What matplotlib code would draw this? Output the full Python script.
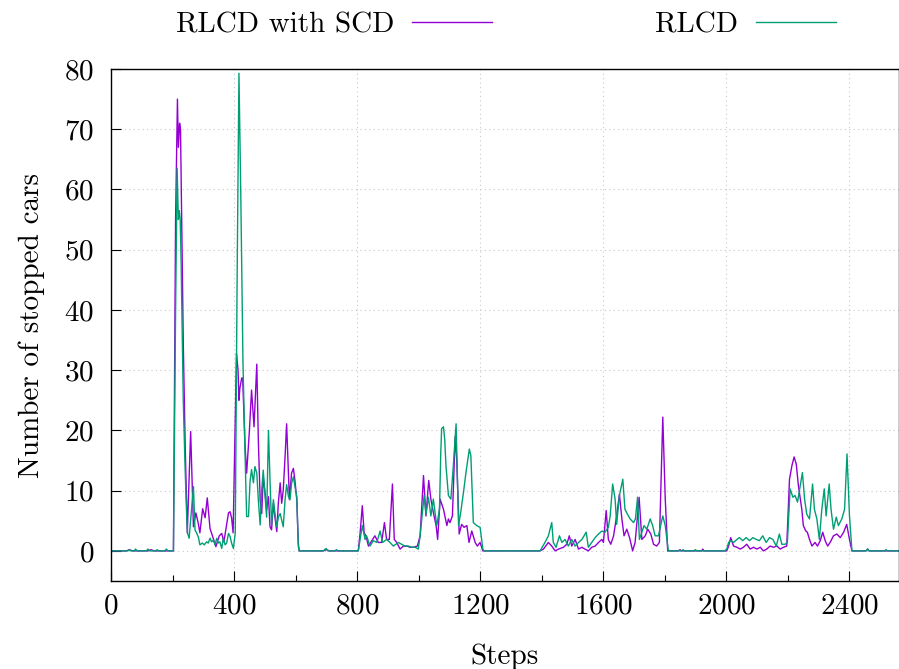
import matplotlib
matplotlib.use("Agg")
import matplotlib.pyplot as plt
from matplotlib.ticker import MultipleLocator

# ---- data ----
steps_scd = [0, 50, 60, 70, 120, 130, 140, 200, 203, 210, 216, 219, 223, 226, 230, 235, 241, 248,
             259, 268, 276, 284, 289, 298, 306, 313, 322, 333, 341, 352, 360, 367, 382, 387, 392,
             397, 408, 413, 416, 419, 425, 428, 436, 441, 450, 457, 465, 474, 479, 485, 490, 495,
             501, 506, 512, 517, 522, 528, 533, 539, 544, 550, 555, 560, 566, 571, 580, 587, 593,
             598, 604, 609, 612, 690, 700, 710, 800,
             804, 810, 817, 823, 829, 837, 848, 858, 869, 880, 889, 896, 905, 915, 921, 929, 940,
             951, 962, 972, 983, 996, 1005, 1016, 1024, 1033, 1040, 1048, 1057, 1062, 1070, 1081,
             1092, 1097, 1102, 1110, 1119, 1124, 1132, 1140, 1148, 1157, 1164, 1173, 1184, 1191,
             1200, 1209, 1395,
             1406, 1422, 1433, 1444, 1455, 1471, 1482, 1490, 1498, 1509, 1520, 1531, 1541, 1552,
             1563, 1574, 1585, 1596, 1601, 1610, 1617, 1625, 1634, 1644, 1653, 1661, 1668, 1677,
             1686, 1696, 1704, 1709, 1717, 1726, 1737, 1745, 1755, 1764, 1774, 1783, 1794, 1802,
             1810, 1845, 1850, 1855, 1920, 1924, 1928, 2002,
             2008, 2015, 2024, 2035, 2046, 2056, 2067, 2078, 2089, 2100, 2111, 2121, 2132, 2143,
             2154, 2165, 2176, 2186, 2197, 2206, 2214, 2221, 2228, 2235, 2241, 2246, 2251, 2259,
             2264, 2271, 2279, 2289, 2297, 2306, 2314, 2322, 2330, 2338, 2349, 2360, 2371, 2382,
             2392, 2401, 2409, 2455, 2460, 2465, 2560]
vals_scd = [0, 0, 0.2, 0, 0, 0.2, 0, 0, 0, 55, 75, 67, 71, 70, 54, 34.5, 18, 3,
            19.8, 4, 6.3, 4.5, 3, 7, 5.5, 8.8, 3.7, 2, 0.7, 2.5, 2.9, 1.5, 6.3, 6.5, 5.5,
            3, 32.8, 30, 25, 27, 28.7, 28.7, 17.3, 12.9, 20, 26.7, 20.6, 31, 18.4, 8.4, 6.2, 12.3,
            9.6, 6.8, 9, 4.0, 3.5, 7.9, 5.6, 3.2, 7.9, 11.3, 7.9, 10.1, 15.7, 21.1, 8.5, 12.9, 13.7,
            11.7, 8.5, 1.3, 0, 0, 0.2, 0, 0,
            0, 3, 7.5, 3, 2.5, 0.8, 1.7, 2.5, 1.4, 1.4, 4.7, 1.9, 1.9, 11.1, 1.9, 1.4, 0.3,
            0.8, 0.8, 0.6, 0.6, 0.8, 2.5, 12.5, 5.8, 11.7, 8.6, 6.4, 4.2, 1.9, 8.6, 6.9,
            4.2, 5.3, 4.7, 5.8, 19, 15.3, 2.8, 4.4, 3.9, 4.2, 1.4, 3.3, 1.4, 0.8,
            1.4, 0, 0,
            0.3, 1.4, 0.8, 0, 0.3, 0.6, 1.1, 2.5, 0.8, 1.9, 0.3, 0.6, 0.3, 0,
            0.6, 0.8, 1.4, 1.9, 1.4, 6.7, 1.9, 1.1, 2.5, 5.8, 9.4, 5.3, 2.5, 3.6,
            2.2, 0, 1.4, 4.2, 8.9, 1.9, 2.5, 3.6, 2.8, 1.1, 0.8, 1.4, 22.2, 8.6,
            0, 0, 0.2, 0, 0, 0.3, 0, 0,
            0.8, 2.2, 0.8, 0.6, 0.3, 0.6, 1.1, 0.3, 0.6, 0.3, 0.6, 0, 0.3, 0.8,
            0.6, 0.8, 0.3, 0.6, 0.8, 11.9, 14.2, 15.6, 14.4, 10.8, 8.6, 6.9, 4.2, 3.3,
            3.1, 1.9, 0.8, 1.4, 0.8, 1.7, 3.1, 1.7, 0.8, 1.4, 2.5, 2.8, 2.2, 3.1,
            4.4, 1.9, 0, 0, 0.3, 0, 0]

steps_rlcd = [0, 55, 60, 65, 75, 80, 85, 115, 120, 125, 145, 150, 155, 175, 180, 185, 203,
              210, 215, 219, 222, 225, 228, 235, 241, 246, 249, 254, 262, 268, 273, 279, 284,
              289, 297, 303, 311, 316, 322, 327, 333, 338, 344, 349, 354, 360, 365, 371, 376,
              382, 387, 392, 398, 404, 410, 416, 422, 429, 435, 441, 447, 452, 457, 463, 468,
              474, 479, 485, 490, 495, 501, 506, 512, 517, 522, 528, 533, 539, 544, 550, 555,
              560, 566, 571, 577, 582, 587, 593, 598, 604, 609, 612, 690, 699, 705, 728, 733,
              738, 800,
              804, 817, 826, 831, 842, 853, 864, 875, 883, 896, 907, 918, 934, 945, 956, 967,
              978, 989, 999, 1005, 1018, 1024, 1032, 1040, 1048, 1059, 1068, 1072, 1075, 1081,
              1085, 1089, 1097, 1105, 1113, 1122, 1130, 1137, 1146, 1154, 1165, 1170, 1178,
              1189, 1200, 1209, 1213, 1395,
              1411, 1422, 1433, 1438, 1447, 1458, 1466, 1476, 1487, 1498, 1509, 1520, 1531,
              1545, 1552, 1563, 1574, 1585, 1596, 1606, 1617, 1623, 1631, 1639, 1644, 1653,
              1664, 1671, 1679, 1688, 1699, 1705, 1712, 1718, 1726, 1733, 1742, 1753, 1761,
              1769, 1780, 1787, 1794, 1802, 1812, 1855, 1860, 1865, 1895, 1900, 1905, 1995,
              2002, 2008, 2015, 2024, 2035, 2043, 2054, 2065, 2076, 2087, 2098, 2108, 2119,
              2130, 2141, 2152, 2163, 2173, 2181, 2192, 2199, 2208, 2217, 2224, 2232, 2241,
              2248, 2255, 2262, 2271, 2281, 2287, 2295, 2303, 2311, 2319, 2325, 2335, 2341,
              2349, 2358, 2365, 2376, 2385, 2393, 2401, 2409, 2455, 2460, 2465, 2515, 2520,
              2525, 2560]
vals_rlcd = [0, 0, 0.2, 0, 0, 0.3, 0, 0, 0.3, 0, 0, 0.2, 0, 0, 0.3, 0, 0,
             40, 63.5, 55, 56.5, 55, 48, 24.8, 13.6, 5.9, 2.9, 2.1, 7, 10.7, 3.5, 2.9, 2.3,
             1.0, 1.3, 1.0, 1.5, 1.3, 2.1, 1.5, 1.8, 1.0, 2.1, 1.3, 1.5, 0.4, 2.1, 1.0, 1.3,
             2.9, 2.4, 1.3, 0.4, 3, 45, 79.3, 59, 31.5, 17.7, 5.7, 5.7, 11.5, 13.5, 11.3, 14,
             12.9, 8.5, 4.3, 10.1, 13.4, 9, 5.6, 20, 11.7, 4.3, 8.5, 6.2, 4.0, 5.6, 6.2, 5.1,
             4.0, 8.5, 11, 9, 8.5, 11.2, 12.3, 10.7, 9, 0.7, 0, 0, 0.4, 0, 0, 0.2,
             0, 0,
             0, 4.2, 1.9, 2.5, 0.8, 1.7, 1.4, 3.3, 1.4, 1.9, 1.4, 0.8, 1.4, 1.1, 0.8, 0.8,
             0.6, 0.6, 0.3, 2.5, 9.2, 6.1, 8.9, 5.8, 8.6, 4.2, 6.9, 16, 20.3, 20.6,
             18.5, 14.2, 9.2, 8.6, 14.2, 21.1, 4.2, 6.4, 9.7, 13, 16.9, 15.8, 4.7,
             4.2, 3.9, 0.3, 0, 0,
             1.4, 2.5, 4.7, 1.4, 0.6, 2.5, 1.4, 1.9, 0.8, 1.9, 0.8, 1.4, 1.9,
             3.1, 0.6, 1.4, 2.2, 2.8, 3.3, 3.1, 3.9, 5.8, 11.1, 8.6, 4.4, 9.2,
             11.9, 6.9, 6.1, 5.3, 4.7, 5.3, 8.9, 1.9, 3.1, 4.2, 3.6, 5.3, 4.2,
             2.5, 2.5, 4.2, 5.8, 4.2, 0, 0, 0.2, 0, 0, 0.2, 0, 0,
             0.3, 1.4, 1.7, 1.4, 1.9, 2.2, 1.7, 2.2, 1.7, 2.2, 1.9, 1.7, 2.5,
             1.4, 2.2, 1.9, 0.8, 2.8, 1.1, 1.1, 1.4, 10.3, 8.9, 9.2, 8.1, 10.8,
             13, 8.6, 6.1, 5.3, 11.1, 6.9, 5.3, 1.9, 6.9, 10.3, 5.8, 11.1, 6.9,
             3.6, 5.6, 4.2, 5.3, 6.9, 16.1, 5.8, 0, 0, 0.3, 0, 0, 0.2,
             0, 0]

labels = ["RLCD with SCD", "RLCD"]
colors = ["#9400d3", "#009e73"]
x_ticks = [0, 400, 800, 1200, 1600, 2000, 2400]
y_ticks = [0, 10, 20, 30, 40, 50, 60, 70, 80]

plt.rcParams["font.family"] = ["cmr10", "DejaVu Serif"]
plt.rcParams["axes.formatter.use_mathtext"] = True
plt.rcParams["mathtext.fontset"] = "cm"

FS = 21
fig = plt.figure(figsize=(8.99, 6.69), dpi=100)
ax = fig.add_axes([111 / 899, 1 - 581 / 669, 788 / 899, (581 - 69) / 669])

ax.plot(steps_scd, vals_scd, color=colors[0], lw=1.0, label=labels[0])
ax.plot(steps_rlcd, vals_rlcd, color=colors[1], lw=1.0, label=labels[1])

ax.set_xlim(0, 2562)
ax.set_ylim(-5, 80)
ax.set_xticks(x_ticks)
ax.set_yticks(y_ticks)
ax.xaxis.set_minor_locator(MultipleLocator(200))
ax.tick_params(axis="both", which="major", direction="in", length=7, width=0.8,
               labelsize=FS, top=False, right=False)
ax.tick_params(axis="y", which="major", pad=12)
ax.tick_params(axis="x", which="major", pad=9)
ax.tick_params(axis="x", which="minor", direction="in", length=4, width=0.8,
               top=False)
ax.grid(True, which="major", color="#c8c8c8", linestyle=(0, (1, 3)), lw=0.8)
ax.set_axisbelow(True)
for s in ax.spines.values():
    s.set_linewidth(1.0)

ax.set_xlabel("Steps", fontsize=FS, labelpad=17)
ax.set_ylabel("Number of stopped cars", fontsize=FS, labelpad=14)

fig.legend(*ax.get_legend_handles_labels(), loc="center",
           bbox_to_anchor=(506 / 899, 1 - 25 / 669), ncol=2, frameon=False,
           markerfirst=False, fontsize=FS, handlelength=2.74, handletextpad=0.6,
           columnspacing=5.6, borderaxespad=0.0, borderpad=0.0)

fig.savefig("out.png", dpi=100)
